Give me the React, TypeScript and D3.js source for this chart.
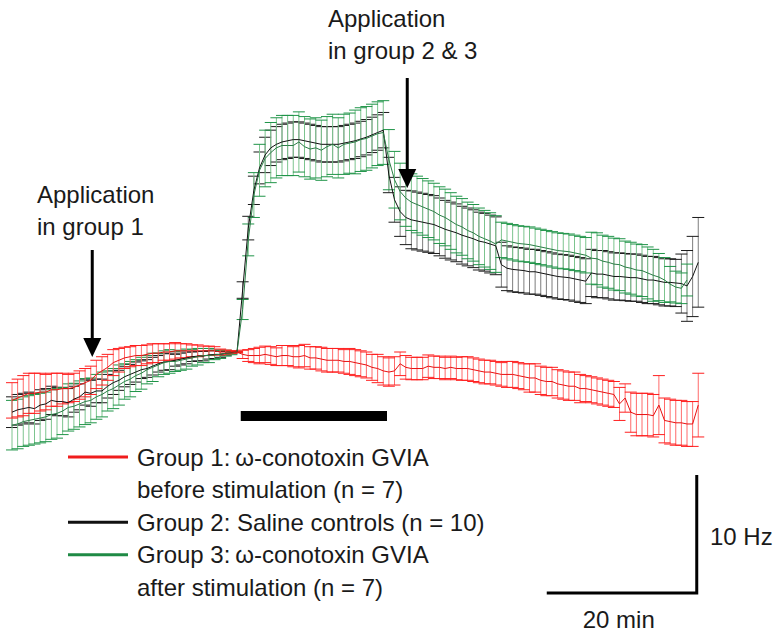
import { useEffect, useRef } from "react";
import * as d3 from "d3";

const WIDTH = 773;
const HEIGHT = 634;

// one sample every 0.75 min, change in firing rate (Hz) relative to stimulation onset
const SAMPLE_MIN = 0.75;

const group1_mean = [
  -4.1, -3.9, -3.7, -3.5, -3.5, -3.4, -3.4, -3.2, -3.2, -3.1,
  -3.1, -3.0, -2.8, -2.6, -2.4, -1.9, -1.6, -1.3, -0.9, -0.7,
  -0.5, -0.4, -0.3, -0.3, -0.2, -0.1, -0.1, 0, 0, 0.1,
  0.1, 0.1, 0.1, 0.1, 0.1, 0.1, 0.1, 0, 0, 0,
  0, -0.2, -0.3, -0.3, -0.3, -0.2, -0.3, -0.4, -0.3, -0.3,
  -0.4, -0.4, -0.3, -0.5, -0.5, -0.6, -0.7, -0.7, -0.7, -0.8,
  -0.8, -0.9, -1.0, -1.1, -1.3, -1.4, -1.6, -1.7, -1.6, -1.0,
  -1.3, -1.4, -1.4, -1.4, -1.2, -1.3, -1.3, -1.4, -1.3, -1.4,
  -1.4, -1.4, -1.5, -1.6, -1.7, -1.7, -1.8, -1.9, -1.9, -1.9,
  -2.0, -2.1, -2.2, -2.2, -2.4, -2.5, -2.5, -2.7, -2.8, -2.9,
  -2.9, -3.1, -3.1, -3.2, -3.3, -3.4, -3.5, -3.6, -4.4, -3.9,
  -5.1, -5.3, -5.3, -5.3, -5.4, -4.5, -5.8, -5.9, -6.0, -6.0,
  -6.1, -6.1, -4.5,
];
const group1_sem = [
  1.5, 1.6, 1.7, 1.7, 1.7, 1.6, 1.5, 1.4, 1.4, 1.3,
  1.2, 1.2, 1.2, 1.2, 1.2, 1.2, 1.2, 1.1, 1.1, 1.0,
  0.9, 0.85, 0.85, 0.85, 0.8, 0.8, 0.8, 0.7, 0.7, 0.7,
  0.6, 0.6, 0.5, 0.5, 0.4, 0.4, 0.35, 0.25, 0.17, 0.12,
  0.05, 0.35, 0.5, 0.6, 0.7, 0.7, 0.75, 0.75, 0.85, 0.85,
  0.85, 0.95, 0.95, 0.95, 0.95, 1.0, 1.0, 1.0, 1.0, 1.0,
  1.1, 1.1, 1.1, 1.1, 1.1, 1.2, 1.2, 1.2, 1.2, 1.0,
  1.0, 0.95, 0.95, 0.95, 0.95, 0.95, 0.95, 0.95, 0.95, 0.95,
  1.0, 1.0, 1.0, 1.0, 1.0, 1.0, 1.0, 1.0, 1.1, 1.1,
  1.1, 1.1, 1.2, 1.2, 1.2, 1.2, 1.2, 1.2, 1.2, 1.2,
  1.2, 1.2, 1.1, 1.1, 1.1, 1.1, 1.1, 1.1, 1.4, 1.2,
  1.7, 1.8, 1.8, 1.8, 1.8, 2.5, 1.9, 1.9, 1.9, 1.9,
  1.9, 1.9, 2.7,
];

const group2_mean = [
  -5.1, -4.9, -4.8, -4.7, -4.8, -4.5, -4.4, -4.1, -4.2, -4.2,
  -4.3, -4.0, -3.8, -3.4, -3.5, -3.3, -3.3, -2.9, -2.6, -2.4,
  -2.1, -1.9, -1.7, -1.5, -1.4, -1.2, -1.0, -0.85, -0.8, -0.7,
  -0.6, -0.5, -0.4, -0.35, -0.35, -0.25, -0.2, -0.2, -0.1, -0.05,
  0, 5.25, 10.5, 13.7, 15.6, 16.7, 17.3, 17.6, 17.8, 17.9,
  18.0, 18.0, 17.9, 17.8, 17.7, 17.6, 17.6, 17.6, 17.6, 17.7,
  17.8, 17.9, 18.05, 18.2, 18.4, 18.6, 18.8, 15.0, 12.9, 11.9,
  11.4, 11.2, 11.1, 11.0, 10.9, 10.8, 10.6, 10.4, 10.25, 10.1,
  9.9, 9.75, 9.6, 9.4, 9.3, 9.15, 9.0, 7.4, 7.1, 7.0,
  6.95, 6.9, 6.8, 6.8, 6.7, 6.6, 6.5, 6.4, 6.35, 6.3,
  6.2, 6.1, 6.0, 6.7, 6.6, 6.6, 6.5, 6.4, 6.4, 6.35,
  6.3, 6.3, 6.2, 6.1, 6.1, 6.0, 5.9, 5.9, 5.85, 5.8,
  5.6, 6.4, 7.6,
];
const group2_sem = [
  1.3, 1.3, 1.3, 1.3, 1.3, 1.3, 1.3, 1.2, 1.2, 1.2,
  1.2, 1.1, 1.1, 1.1, 1.1, 1.0, 1.0, 1.0, 1.0, 0.85,
  0.85, 0.85, 0.85, 0.75, 0.75, 0.75, 0.7, 0.7, 0.7, 0.5,
  0.5, 0.5, 0.4, 0.4, 0.4, 0.35, 0.35, 0.25, 0.17, 0.1,
  0.05, 0.7, 1.0, 1.2, 1.35, 1.5, 1.5, 1.5, 1.5, 1.5,
  1.5, 1.5, 1.5, 1.5, 1.5, 1.5, 1.5, 1.5, 1.5, 1.5,
  1.5, 1.5, 1.5, 1.5, 1.5, 1.5, 1.5, 1.5, 1.9, 2.1,
  2.3, 2.45, 2.45, 2.45, 2.45, 2.45, 2.45, 2.45, 2.45, 2.45,
  2.45, 2.45, 2.45, 2.45, 2.45, 2.45, 2.45, 1.9, 1.9, 1.9,
  1.9, 1.9, 1.9, 1.9, 1.9, 1.9, 1.9, 1.9, 1.9, 1.9,
  1.9, 1.9, 1.9, 2.0, 2.0, 2.0, 2.0, 2.0, 2.0, 2.0,
  2.0, 2.0, 2.0, 2.0, 2.0, 2.0, 2.0, 2.0, 2.0, 2.5,
  3.0, 3.4, 3.8,
];

const group3_mean = [
  -6.2, -6.1, -5.9, -5.8, -5.7, -5.6, -5.5, -5.3, -5.2, -5.0,
  -4.7, -4.6, -4.4, -4.2, -4.1, -3.8, -3.6, -3.3, -3.1, -2.8,
  -2.5, -2.3, -2.0, -1.8, -1.5, -1.3, -1.1, -0.9, -0.8, -0.8,
  -0.7, -0.6, -0.5, -0.4, -0.3, -0.3, -0.25, -0.2, -0.1, -0.1,
  0, 3.6, 9.5, 13.3, 15.4, 16.4, 16.9, 17.3, 17.5, 17.5,
  17.5, 17.8, 17.4, 17.2, 17.3, 17.1, 17.4, 17.6, 17.3, 17.6,
  17.7, 17.8, 18.0, 18.1, 18.3, 18.5, 18.6, 16.3, 14.6, 13.6,
  13.05, 12.7, 12.5, 12.3, 12.1, 11.9, 11.6, 11.4, 11.1, 10.8,
  10.6, 10.3, 10.1, 9.8, 9.6, 9.4, 9.15, 9.5, 9.4, 9.3,
  9.2, 9.15, 9.1, 9.0, 8.9, 8.8, 8.7, 8.6, 8.55, 8.5,
  8.4, 8.3, 8.2, 7.95, 7.9, 7.7, 7.6, 7.45, 7.4, 7.2,
  7.1, 6.95, 6.9, 6.7, 6.5, 6.35, 6.1, 5.75, 5.5, 5.4,
  6.1,
];
const group3_sem = [
  2.1, 2.1, 2.1, 2.1, 2.1, 2.1, 2.1, 2.1, 2.1, 2.0,
  2.0, 1.95, 1.95, 1.95, 1.9, 1.9, 1.9, 1.7, 1.7, 1.7,
  1.5, 1.5, 1.35, 1.35, 1.2, 1.2, 1.0, 1.0, 1.0, 0.85,
  0.85, 0.85, 0.7, 0.7, 0.6, 0.6, 0.4, 0.35, 0.25, 0.13,
  0.05, 0.85, 1.35, 1.9, 2.2, 2.4, 2.55, 2.55, 2.55, 2.55,
  2.55, 2.55, 2.55, 2.55, 2.55, 2.55, 2.55, 2.55, 2.55, 2.55,
  2.55, 2.7, 2.7, 2.7, 2.7, 2.7, 2.7, 2.55, 2.4, 2.4,
  2.4, 2.4, 2.4, 2.4, 2.4, 2.4, 2.4, 2.4, 2.4, 2.4,
  2.4, 2.4, 2.4, 2.4, 2.4, 2.4, 2.4, 1.5, 1.5, 1.5,
  1.5, 1.5, 1.5, 1.5, 1.5, 1.5, 1.5, 1.5, 1.5, 1.5,
  1.5, 1.5, 1.5, 2.2, 2.2, 2.2, 2.2, 2.2, 2.2, 2.2,
  2.2, 2.2, 2.2, 2.2, 2.2, 2.0, 1.9, 1.5, 1.35, 1.3,
  1.35,
];

const legend_lines = [
  { color: "#f01c1c", rows: ["Group 1:\u2009\u03c9-conotoxin GVIA", "before stimulation (n = 7)"] },
  { color: "#111111", rows: ["Group 2: Saline controls (n = 10)"] },
  { color: "#1f8a45", rows: ["Group 3:\u2009\u03c9-conotoxin GVIA", "after stimulation (n = 7)"] },
];

// minutes
const stim_start = 30.5;
const stim_end = 50;
const application_1 = 10.7;
const application_23 = 52.7;
const scalebar_end = 91.3;

const FONT = "'Liberation Sans', Arial, sans-serif";

export default function App() {
  const ref = useRef<SVGSVGElement | null>(null);

  useEffect(() => {
    const svg = d3.select(ref.current);
    svg.selectAll("*").remove();

    // scales: 7.5 px per minute, 11.8 px per Hz
    const x_scale = d3.scaleLinear().domain([0, 91.5]).range([12, 698.25]);
    const y_scale = d3.scaleLinear().domain([0, 10]).range([352, 234]);

    const series = [
      { mean: group2_mean, sem: group2_sem, bar: "#7d7d7d", cap: "#1a1a1a", line: "#111111" },
      { mean: group3_mean, sem: group3_sem, bar: "#7cc48e", cap: "#1f9448", line: "#2a7d45" },
      { mean: group1_mean, sem: group1_sem, bar: "#ff6a6a", cap: "#ff1f1f", line: "#e81010" },
    ];

    const cap_half = 6;

    // error bars
    series.forEach(function (s) {
      const data = s.mean.map((m, i) => ({ t: i * SAMPLE_MIN, m: m, e: s.sem[i] }));
      const g = svg.append("g");
      g.selectAll(".bar").data(data).enter()
        .append("line")
        .attr("x1", (d) => x_scale(d.t))
        .attr("x2", (d) => x_scale(d.t))
        .attr("y1", (d) => y_scale(d.m + d.e))
        .attr("y2", (d) => y_scale(d.m - d.e))
        .attr("stroke", s.bar)
        .attr("stroke-width", 1);
      [1, -1].forEach(function (sign) {
        g.selectAll(".cap" + sign).data(data).enter()
          .append("line")
          .attr("x1", (d) => x_scale(d.t) - cap_half)
          .attr("x2", (d) => x_scale(d.t) + cap_half)
          .attr("y1", (d) => y_scale(d.m + sign * d.e))
          .attr("y2", (d) => y_scale(d.m + sign * d.e))
          .attr("stroke", s.cap)
          .attr("stroke-width", 1);
      });
    });

    // mean lines on top
    series.forEach(function (s) {
      const line = d3.line<number>()
        .x((d, i) => x_scale(i * SAMPLE_MIN))
        .y((d) => y_scale(d));
      svg.append("path")
        .attr("d", line(s.mean))
        .attr("fill", "none")
        .attr("stroke", s.line)
        .attr("stroke-width", 1);
    });

    // stimulation bar
    svg.append("rect")
      .attr("x", x_scale(stim_start))
      .attr("y", 411)
      .attr("width", x_scale(stim_end) - x_scale(stim_start))
      .attr("height", 10)
      .attr("fill", "#000");

    // arrows
    const arrows = [
      { t: application_1, y1: 250, y2: 357 },
      { t: application_23, y1: 78, y2: 188 },
    ];
    arrows.forEach(function (a) {
      const ax = x_scale(a.t);
      svg.append("line")
        .attr("x1", ax).attr("x2", ax)
        .attr("y1", a.y1).attr("y2", a.y2 - 16)
        .attr("stroke", "#000")
        .attr("stroke-width", 3);
      svg.append("path")
        .attr("d", `M${ax - 9},${a.y2 - 19} L${ax + 9},${a.y2 - 19} L${ax},${a.y2} Z`)
        .attr("fill", "#000");
    });

    const text = (x: number, y: number, s: string, anchor = "start") =>
      svg.append("text")
        .attr("x", x).attr("y", y)
        .attr("text-anchor", anchor)
        .attr("font-family", FONT)
        .attr("font-size", 24)
        .attr("fill", "#1a1a1a")
        .text(s);

    text(37, 203, "Application");
    text(37, 235, "in group 1");
    text(328, 27, "Application");
    text(328, 59, "in group 2 & 3");

    // legend
    let row = 0;
    legend_lines.forEach(function (l) {
      const ly = 457 + row * 32.6;
      svg.append("line")
        .attr("x1", 68).attr("x2", 128)
        .attr("y1", ly).attr("y2", ly)
        .attr("stroke", l.color)
        .attr("stroke-width", 3);
      l.rows.forEach(function (r) {
        text(137, 457 + row * 32.6 + 8.5, r);
        row += 1;
      });
    });

    // scale bars
    const sb_y = 593;
    const sb_x = x_scale(scalebar_end);
    const ten_hz = y_scale(0) - y_scale(10);
    svg.append("path")
      .attr("d", `M${x_scale(scalebar_end - 20)},${sb_y} L${sb_x},${sb_y} L${sb_x},${sb_y - ten_hz}`)
      .attr("fill", "none")
      .attr("stroke", "#000")
      .attr("stroke-width", 3);
    text(710, 545, "10 Hz");
    text((x_scale(scalebar_end - 20) + sb_x) / 2 - 3, 628, "20 min", "middle");
  }, []);

  return (
    <svg
      ref={ref}
      width={WIDTH}
      height={HEIGHT}
      style={{ position: "absolute", left: 0, top: 0, background: "#fff" }}
    />
  );
}
